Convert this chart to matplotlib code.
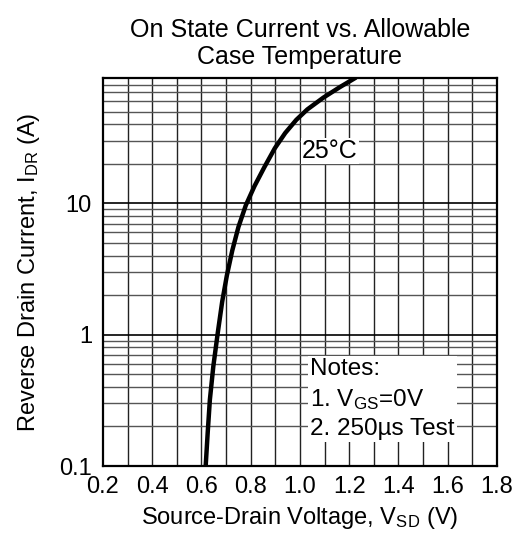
import matplotlib
matplotlib.use('Agg')
import matplotlib.pyplot as plt
import numpy as np

plt.rcParams.update({
    'font.family': ['Liberation Sans', 'DejaVu Sans'],
    'mathtext.fontset': 'custom',
    'mathtext.rm': 'Liberation Sans',
    'mathtext.it': 'Liberation Sans',
    'font.size': 17,
})

# curve (V, A)
vsd = [0.617, 0.625, 0.634, 0.648, 0.666, 0.684, 0.703, 0.725, 0.750, 0.780,
       0.815, 0.855, 0.898, 0.940, 0.985, 1.030, 1.095, 1.162, 1.220]
idr = [0.1, 0.177, 0.319, 0.573, 1.03, 1.78, 2.82, 4.37, 6.6, 9.66,
       13.5, 18.8, 26.3, 34.3, 43.2, 51.9, 63.8, 76.7, 89.0]

x_ticks = [0.2, 0.4, 0.6, 0.8, 1.0, 1.2, 1.4, 1.6, 1.8]
y_ticks = [0.1, 1, 10]
y_ticklabels = ['0.1', '1', '10']

fig = plt.figure(figsize=(5.22, 5.33), dpi=100)
ax = fig.add_axes([0.1973, 0.1257, 0.7548, 0.728])

ax.set_yscale('log')
ax.set_xlim(0.2, 1.8)
ax.set_ylim(0.1, 90)

# grid: every 0.1 V, log minor lines
for v in np.arange(0.3, 1.8, 0.1):
    ax.axvline(v, color='#222222', lw=1.0, zorder=1)
for dec in [0.1, 1, 10]:
    for m in range(1, 10):
        y = dec * m
        if y <= 0.1 or y >= 90:
            continue
        if m == 1:
            ax.axhline(y, color='black', lw=1.2, zorder=1)
        else:
            ax.axhline(y, color='#555555', lw=1.0, zorder=1)

ax.plot(vsd, idr, color='black', lw=3.2, zorder=3, solid_joinstyle='round')

ax.text(1.122, 25, '25°C', fontsize=18, ha='center', va='center',
        bbox=dict(facecolor='white', edgecolor='none', pad=0.5), zorder=4)

ax.text(1.04, 0.158, 'Notes:\n1. V$_{\\mathrm{GS}}$=0V\n2. 250µs Test', fontsize=17.5,
        ha='left', va='bottom', linespacing=1.35,
        bbox=dict(facecolor='white', edgecolor='none', pad=1.5), zorder=4)

ax.set_xticks(x_ticks)
ax.set_xticklabels([f'{v:.1f}' for v in x_ticks])
ax.set_yticks(y_ticks)
ax.set_yticklabels(y_ticklabels)
ax.minorticks_off()
ax.tick_params(axis='x', length=0, pad=7, labelsize=17)
ax.tick_params(axis='y', length=0, pad=8, labelsize=17)

for s in ax.spines.values():
    s.set_linewidth(1.6)
    s.set_zorder(5)

ax.set_xlabel('Source-Drain Voltage, V$_{\\mathrm{SD}}$ (V)', fontsize=17, labelpad=5)
ax.set_ylabel('Reverse Drain Current, I$_{\\mathrm{DR}}$ (A)', fontsize=17, labelpad=12)
ax.set_title('On State Current vs. Allowable\nCase Temperature', fontsize=18, pad=10,
             linespacing=1.15)

fig.savefig('out.png', dpi=100)
